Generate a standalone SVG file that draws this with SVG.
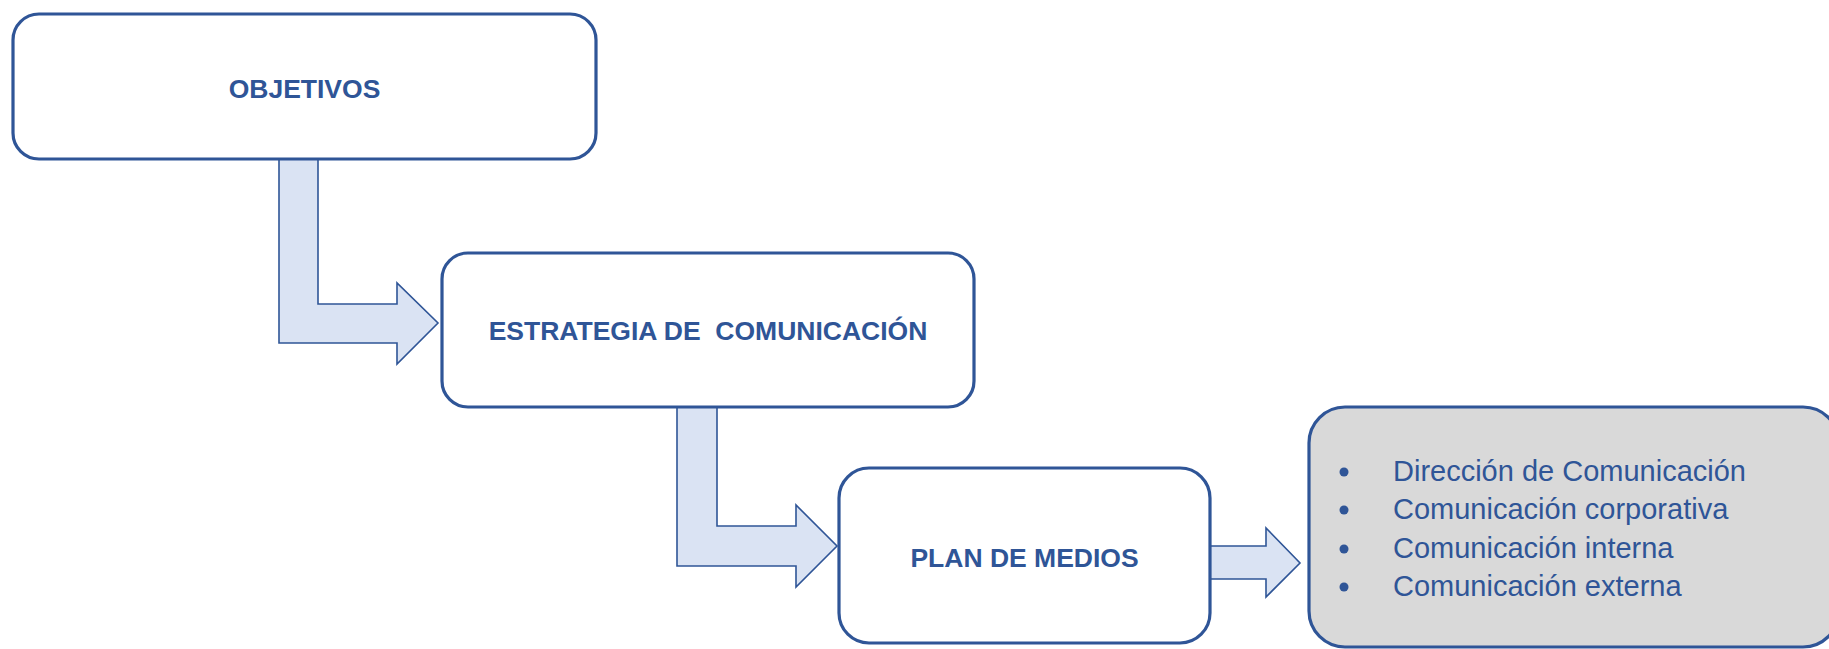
<svg xmlns="http://www.w3.org/2000/svg" width="1829" height="649" viewBox="0 0 1829 649">
  <style>
    .box { fill: #FFFFFF; stroke: #2F5597; stroke-width: 3.2; }
    .grey { fill: #D9D9D9; stroke: #2F5597; stroke-width: 3.2; }
    .arrow { fill: #DAE3F3; stroke: #2F5597; stroke-width: 1.6; stroke-linejoin: miter; }
    .title { font-family: "Liberation Sans", Arial, sans-serif; font-weight: bold; font-size: 26.5px; fill: #2F5597; text-anchor: middle; }
    .item { font-family: "Liberation Sans", Arial, sans-serif; font-size: 29px; fill: #2F5597; }
    .dot { fill: #2F5597; }
  </style>
  <rect width="1829" height="649" fill="#FFFFFF"/>
  <g id="connectors">
    <polygon class="arrow" points="279,159 318,159 318,304 397,304 397,283 438,323 397,364 397,343 279,343"/>
    <polygon class="arrow" points="677,407 717,407 717,526 796,526 796,505 837,546 796,587 796,566 677,566"/>
    <polygon class="arrow" points="1210,546 1266,546 1266,528 1300,563 1266,597 1266,579 1210,579"/>
  </g>
  <g id="objetivos">
    <rect class="box" x="13" y="14" width="583" height="145" rx="26" ry="26"/>
    <text class="title" x="304.5" y="98">OBJETIVOS</text>
  </g>
  <g id="estrategia">
    <rect class="box" x="442" y="253" width="532" height="154" rx="26" ry="26"/>
    <text class="title" x="708" y="340" xml:space="preserve">ESTRATEGIA DE  COMUNICACIÓN</text>
  </g>
  <g id="plan">
    <rect class="box" x="839" y="468" width="371" height="175" rx="30" ry="30"/>
    <text class="title" x="1024.5" y="567">PLAN DE MEDIOS</text>
  </g>
  <g id="areas">
    <rect class="grey" x="1309" y="407" width="530" height="240" rx="36" ry="36"/>
    <circle class="dot" cx="1344" cy="472" r="4.5"/>
    <circle class="dot" cx="1344" cy="510" r="4.5"/>
    <circle class="dot" cx="1344" cy="549" r="4.5"/>
    <circle class="dot" cx="1344" cy="587" r="4.5"/>
    <text class="item" x="1393" y="481">Dirección de Comunicación</text>
    <text class="item" x="1393" y="519">Comunicación corporativa</text>
    <text class="item" x="1393" y="558">Comunicación interna</text>
    <text class="item" x="1393" y="596">Comunicación externa</text>
  </g>
</svg>
